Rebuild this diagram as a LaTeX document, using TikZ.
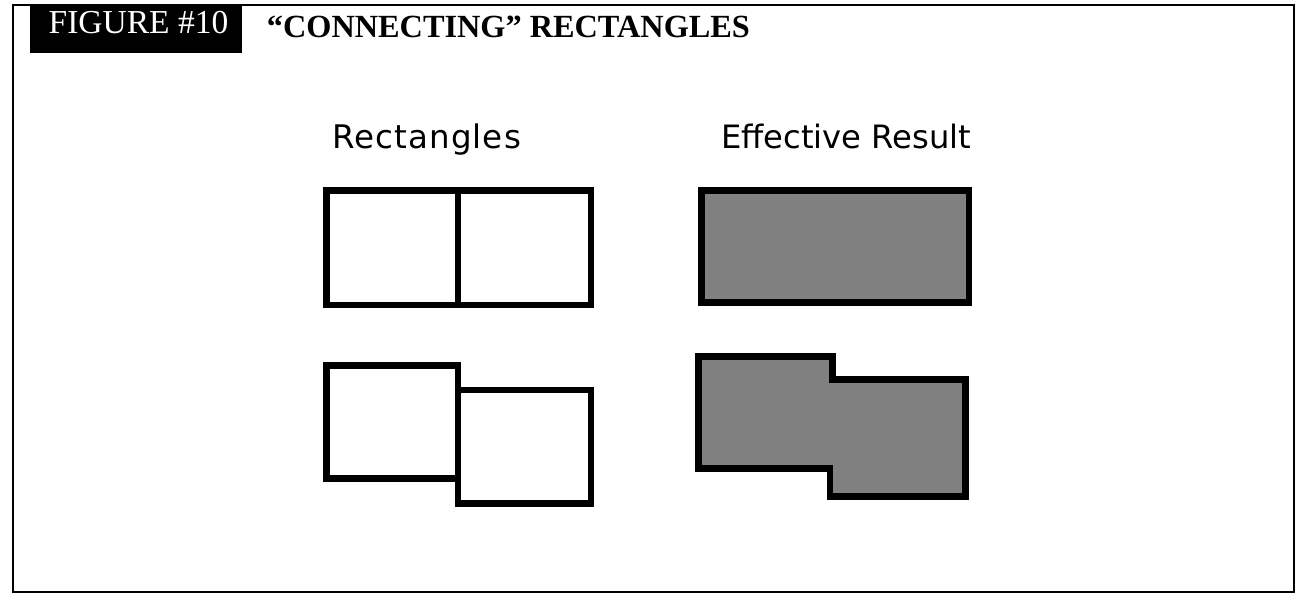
\documentclass[tikz,border=0pt]{standalone}
\usepackage{fontspec}
\setmainfont{Liberation Serif}
\newfontfamily\labelfont{DejaVu Sans}
\newfontfamily\spacedlabelfont[LetterSpace=3.4]{DejaVu Sans}
\definecolor{midgray}{HTML}{808080}
\begin{document}
\begin{tikzpicture}[x=1pt,y=-1pt,
  frame/.style={draw=black,line width=2pt},
  box/.style={draw=black,line width=6.5pt,line join=miter},
  merged/.style={draw=black,line width=6.5pt,fill=midgray,line join=miter},
  lbl/.style={anchor=base west,inner sep=0pt,font=\labelfont\fontsize{32.5}{36}\selectfont}]
\useasboundingbox (0,0) rectangle (1300,600);
\fill[white] (0,0) rectangle (1300,600);
\draw[frame] (12.5,4.5) rectangle (1294,592);
\fill[black] (30,6) rectangle (242,53);
\node[anchor=base west, inner sep=0pt, text=white, font=\fontsize{33.5}{36}\selectfont] (fig) at (48.5,33.3) {FIGURE \#10};
\node[anchor=base west, inner sep=0pt, font=\bfseries\fontsize{32.3}{36}\selectfont] (title) at (266.7,37.7) {“CONNECTING” RECTANGLES};
\node[lbl, font=\spacedlabelfont\fontsize{32.5}{36}\selectfont] (rects) at (332,148.3) {Rectangles};
\node[lbl, font=\labelfont\fontsize{32.2}{36}\selectfont] (result) at (721,148.3) {Effective Result};
% touching rectangles
\draw[box] (326.3,190.5) rectangle (458,305);
\draw[box] (458,190.5) rectangle (590.8,305);
% offset rectangles
\draw[box] (326.3,365.5) rectangle (458,478.5);
\draw[box] (458,390) rectangle (590.8,503.5);
% effective results
\draw[merged] (701.5,190.5) rectangle (968.8,302.7);
\draw[merged] (698.3,356.7) -- (832.3,356.7) -- (832.3,379.3) -- (965.3,379.3)
  -- (965.3,496.7) -- (830,496.7) -- (830,468.3) -- (698.3,468.3) -- cycle;
\end{tikzpicture}
\end{document}
